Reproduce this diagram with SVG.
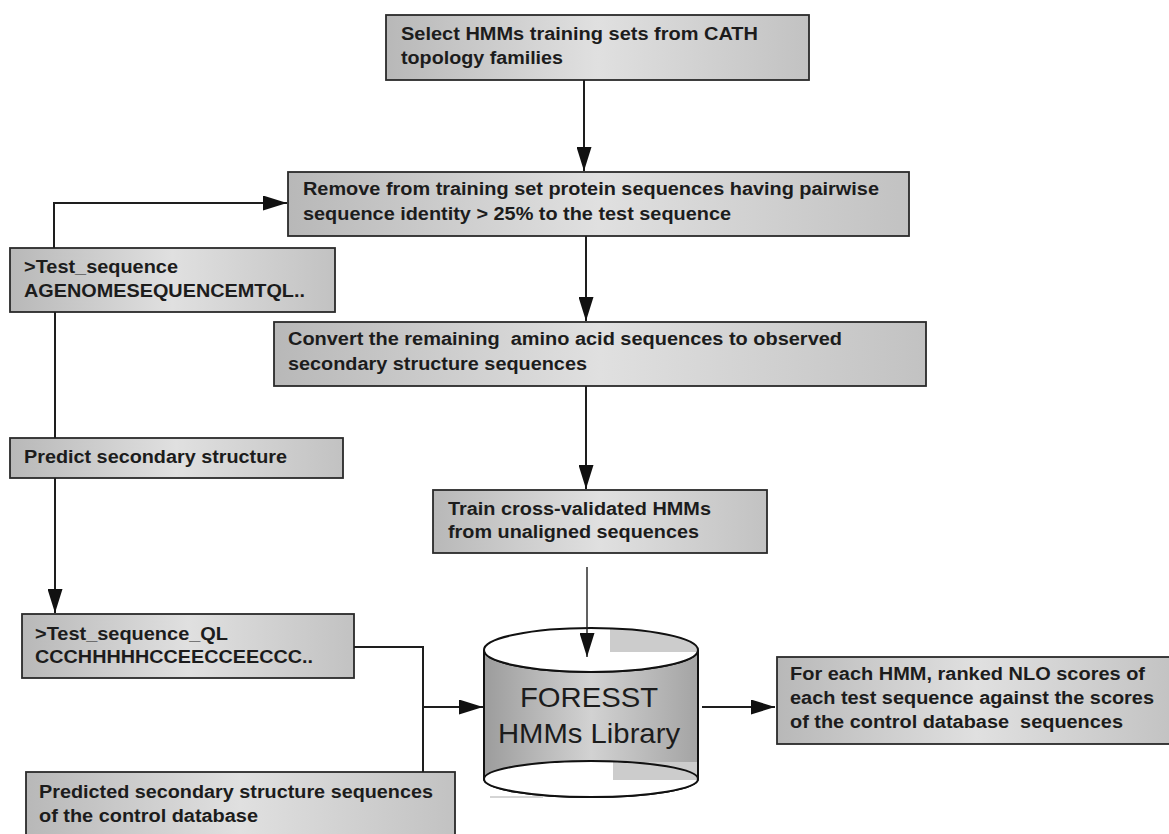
<svg xmlns="http://www.w3.org/2000/svg" width="1169" height="834" viewBox="0 0 1169 834">
<style>
.box{fill:url(#boxg);stroke:#2a2a2a;stroke-width:1.8}
.t{font-family:"Liberation Sans",Arial,sans-serif;font-weight:bold;font-size:17.5px;fill:#1c1c1c;white-space:pre}
.big{font-family:"Liberation Sans",Arial,sans-serif;font-size:28px;fill:#1c1c1c;text-anchor:middle}
.c{fill:none;stroke:#1e1e1e;stroke-width:2}
.thin{fill:none;stroke:#1e1e1e;stroke-width:1.4}
</style>
<defs>
<linearGradient id="boxg" x1="0" y1="0" x2="1" y2="0">
<stop offset="0" stop-color="#b8b8b8"/>
<stop offset="0.5" stop-color="#e0e0e0"/>
<stop offset="1" stop-color="#c2c2c2"/>
</linearGradient>
<linearGradient id="cylg" x1="0" y1="0" x2="1" y2="0">
<stop offset="0" stop-color="#9c9c9c"/>
<stop offset="0.5" stop-color="#d2d2d2"/>
<stop offset="1" stop-color="#a4a4a4"/>
</linearGradient>
<clipPath id="topclip"><ellipse cx="591" cy="650" rx="107" ry="22"/></clipPath>
<marker id="ah" markerUnits="userSpaceOnUse" markerWidth="24" markerHeight="15" refX="24" refY="7.5" orient="auto">
<path d="M0,0 L24,7.5 L0,15 Z" fill="#111"/>
</marker>
</defs>
<rect width="1169" height="834" fill="#fff"/>

<g id="select">
<rect class="box" x="386" y="15" width="423" height="65"/>
<text class="t" x="401" y="40" textLength="357" lengthAdjust="spacingAndGlyphs">Select HMMs training sets from CATH</text>
<text class="t" x="401" y="64" textLength="162" lengthAdjust="spacingAndGlyphs">topology families</text>
</g>

<g id="remove">
<rect class="box" x="288" y="172" width="621" height="64"/>
<text class="t" x="303" y="195" textLength="576" lengthAdjust="spacingAndGlyphs">Remove from training set protein sequences having pairwise</text>
<text class="t" x="303" y="220" textLength="428" lengthAdjust="spacingAndGlyphs">sequence identity &gt; 25% to the test sequence</text>
</g>

<g id="testseq">
<rect class="box" x="10" y="248" width="325" height="64"/>
<text class="t" x="24" y="273" textLength="154" lengthAdjust="spacingAndGlyphs">&gt;Test_sequence</text>
<text class="t" x="24" y="297" textLength="281" lengthAdjust="spacingAndGlyphs">AGENOMESEQUENCEMTQL..</text>
</g>

<g id="convert">
<rect class="box" x="274" y="322" width="652" height="64"/>
<text class="t" x="288" y="345" textLength="554" lengthAdjust="spacingAndGlyphs">Convert the remaining  amino acid sequences to observed</text>
<text class="t" x="288" y="370" textLength="299" lengthAdjust="spacingAndGlyphs">secondary structure sequences</text>
</g>

<g id="predict">
<rect class="box" x="10" y="438" width="333" height="40"/>
<text class="t" x="24" y="463" textLength="263" lengthAdjust="spacingAndGlyphs">Predict secondary structure</text>
</g>

<g id="train">
<rect class="box" x="433" y="490" width="334" height="63"/>
<text class="t" x="448" y="515" textLength="263" lengthAdjust="spacingAndGlyphs">Train cross-validated HMMs</text>
<text class="t" x="448" y="538" textLength="251" lengthAdjust="spacingAndGlyphs">from unaligned sequences</text>
</g>

<g id="testseqql">
<rect class="box" x="22" y="614" width="332" height="64"/>
<text class="t" x="35" y="640" textLength="193" lengthAdjust="spacingAndGlyphs">&gt;Test_sequence_QL</text>
<text class="t" x="35" y="663" textLength="278" lengthAdjust="spacingAndGlyphs">CCCHHHHHCCEECCEECCC..</text>
</g>

<g id="control">
<rect class="box" x="26" y="772" width="429" height="70"/>
<text class="t" x="39" y="798" textLength="394" lengthAdjust="spacingAndGlyphs">Predicted secondary structure sequences</text>
<text class="t" x="39" y="822" textLength="219" lengthAdjust="spacingAndGlyphs">of the control database</text>
</g>

<g id="library">
<path d="M484,650 L484,779 A107,18 0 0 0 698,779 L698,650 A107,22 0 0 1 484,650 Z" fill="url(#cylg)" stroke="#111" stroke-width="2"/>
<ellipse cx="591" cy="779" rx="107" ry="18" fill="#fff"/>
<rect x="613" y="762" width="84" height="18" fill="#cccccc"/>
<ellipse cx="591" cy="779" rx="107" ry="18" fill="none" stroke="#111" stroke-width="2"/>
<ellipse cx="591" cy="650" rx="107" ry="22" fill="#fff"/>
<rect x="610" y="628" width="88" height="24" fill="#cccccc" clip-path="url(#topclip)"/>
<ellipse cx="591" cy="650" rx="107" ry="22" fill="none" stroke="#111" stroke-width="2"/>
<line x1="490" y1="797" x2="543" y2="797" stroke="#aaa" stroke-width="1"/>
<text class="big" x="589" y="707" textLength="138" lengthAdjust="spacingAndGlyphs">FORESST</text>
<text class="big" x="589" y="743" textLength="182" lengthAdjust="spacingAndGlyphs">HMMs Library</text>
</g>

<g id="scores">
<rect class="box" x="777" y="657" width="400" height="87"/>
<text class="t" x="790" y="680" textLength="355" lengthAdjust="spacingAndGlyphs">For each HMM, ranked NLO scores of</text>
<text class="t" x="790" y="704" textLength="364" lengthAdjust="spacingAndGlyphs">each test sequence against the scores</text>
<text class="t" x="790" y="728" textLength="333" lengthAdjust="spacingAndGlyphs">of the control database  sequences</text>
</g>

<g id="connectors">
<line class="c" x1="584" y1="80" x2="584" y2="171" marker-end="url(#ah)"/>
<polyline class="c" points="54,248 54,203 287,203" marker-end="url(#ah)"/>
<line class="c" x1="586" y1="236" x2="586" y2="321" marker-end="url(#ah)"/>
<line class="c" x1="55" y1="312" x2="55" y2="438"/>
<line class="c" x1="586" y1="386" x2="586" y2="489" marker-end="url(#ah)"/>
<line class="c" x1="55" y1="478" x2="55" y2="613" marker-end="url(#ah)"/>
<line class="thin" x1="587" y1="567" x2="587" y2="657" marker-end="url(#ah)"/>
<polyline class="c" points="354,647 423,647 423,772"/>
<line class="c" x1="423" y1="707" x2="483" y2="707" marker-end="url(#ah)"/>
<line class="c" x1="702" y1="707" x2="775" y2="707" marker-end="url(#ah)"/>
</g>
</svg>
